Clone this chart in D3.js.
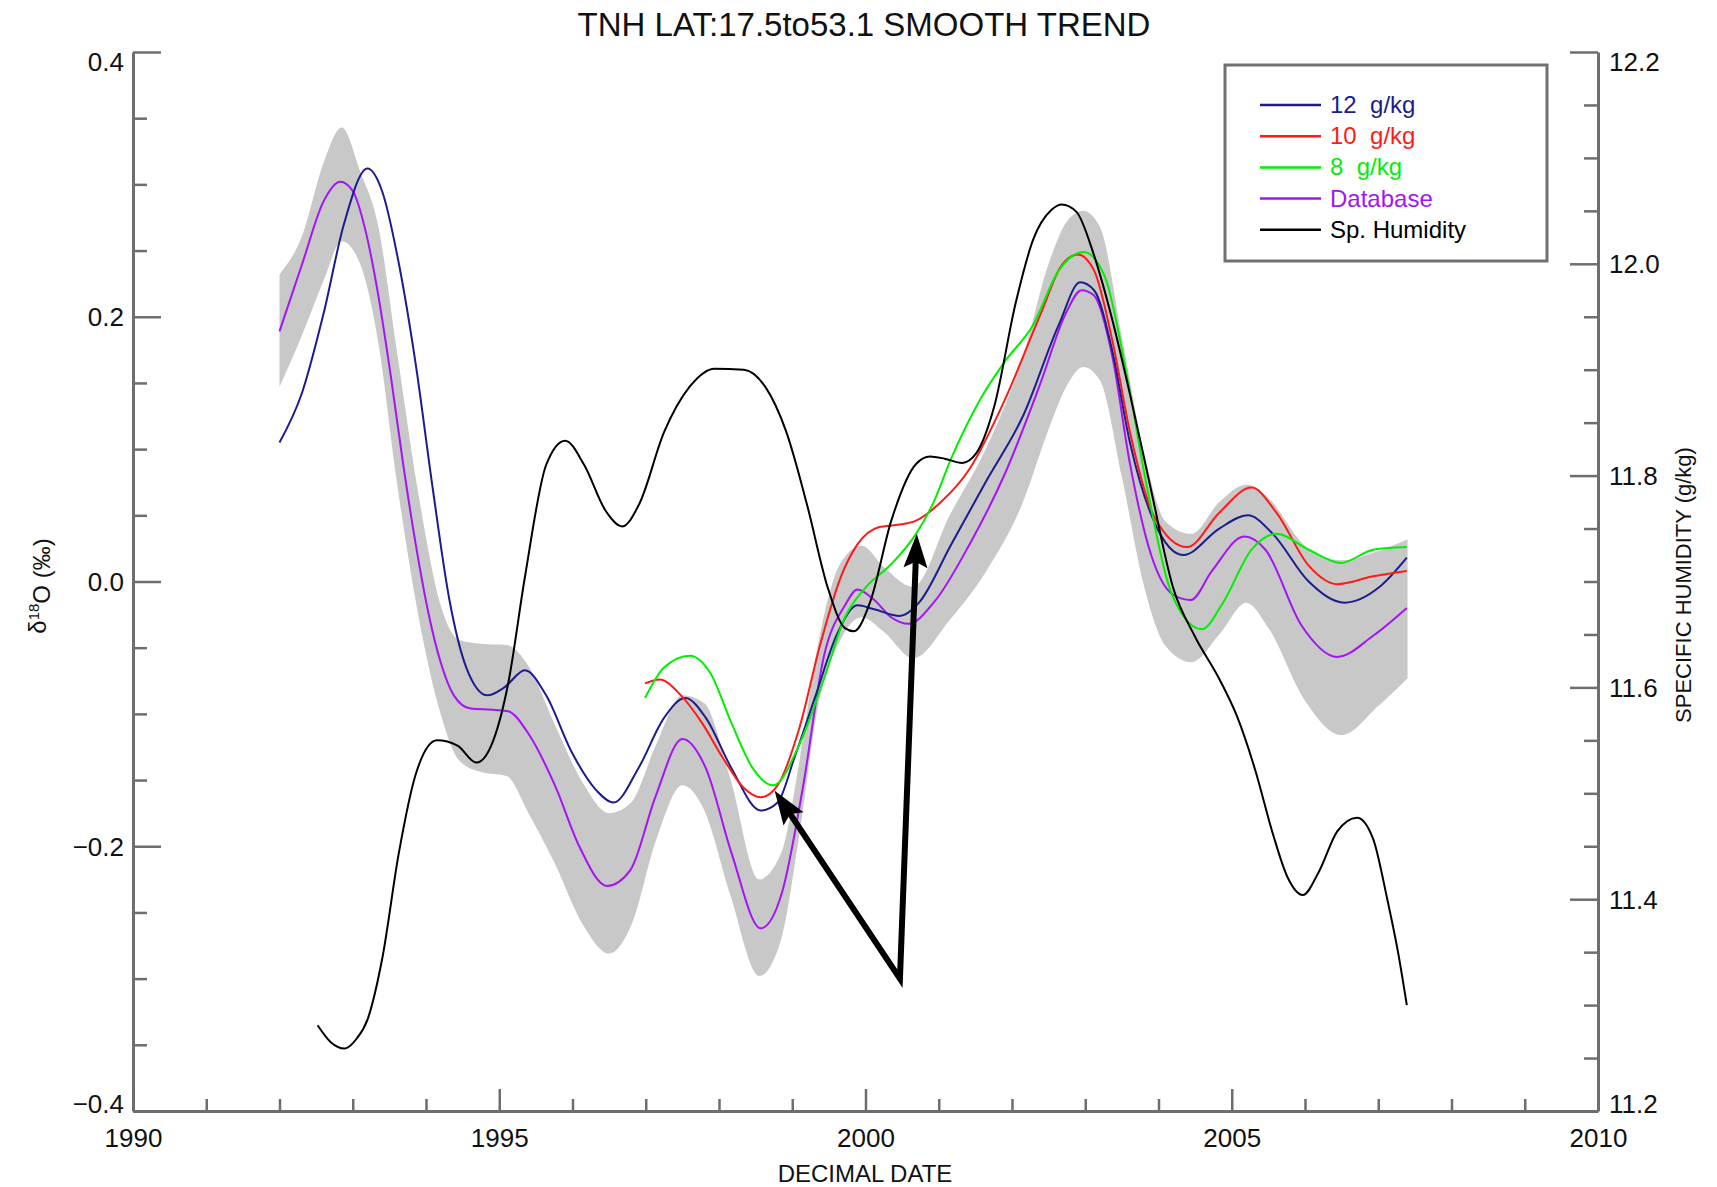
<!DOCTYPE html>
<html>
<head>
<meta charset="utf-8">
<script src="https://cdn.jsdelivr.net/npm/d3@7"></script>
<style>
  html, body { margin: 0; padding: 0; background: #fff; }
  svg { display: block; font-family: "Liberation Sans", Arial, Helvetica, sans-serif; }
</style>
</head>
<body>
<svg id="chart" width="1717" height="1187"></svg>
<script>
// ---------------- DATA ----------------
const titleText = "TNH LAT:17.5to53.1 SMOOTH TREND";
const xTitle = "DECIMAL DATE";
const yRightTitle = "SPECIFIC HUMIDITY (g/kg)";

const xMajorTicks = [1990, 1995, 2000, 2005, 2010];
const yLeftMajorTicks = [-0.4, -0.2, 0.0, 0.2, 0.4];
const yRightMajorTicks = [11.2, 11.4, 11.6, 11.8, 12.0, 12.2];

// Gray uncertainty band (d18O)
const bandYears = [1992.0, 1992.3, 1992.6, 1992.85, 1993.1, 1993.35, 1993.6, 1993.9, 1994.2, 1994.45, 1994.75, 1995.1, 1995.4, 1995.75, 1996.15, 1996.5, 1996.8, 1997.15, 1997.5, 1997.8, 1998.15, 1998.55, 1998.85, 1999.1, 1999.35, 1999.65, 1999.95, 2000.25, 2000.65, 2001.15, 2001.65, 2002.15, 2002.5, 2002.75, 2002.97, 2003.2, 2003.5, 2003.8, 2004.1, 2004.45, 2004.83, 2005.2, 2005.5, 2006.0, 2006.5, 2007.0, 2007.4];
const bandUpper = [0.232, 0.260, 0.316, 0.343, 0.310, 0.268, 0.175, 0.065, -0.018, -0.044, -0.047, -0.048, -0.064, -0.107, -0.153, -0.175, -0.167, -0.122, -0.086, -0.092, -0.148, -0.225, -0.205, -0.135, -0.048, 0.013, 0.027, 0.011, -0.004, 0.050, 0.101, 0.170, 0.240, 0.272, 0.280, 0.268, 0.185, 0.098, 0.045, 0.036, 0.060, 0.073, 0.063, 0.027, 0.016, 0.023, 0.032];
const bandLower = [0.147, 0.185, 0.227, 0.257, 0.240, 0.180, 0.076, -0.027, -0.100, -0.135, -0.144, -0.147, -0.175, -0.212, -0.260, -0.281, -0.260, -0.194, -0.154, -0.173, -0.236, -0.298, -0.270, -0.190, -0.095, -0.045, -0.027, -0.038, -0.058, -0.029, 0.008, 0.060, 0.115, 0.148, 0.162, 0.152, 0.079, -0.003, -0.049, -0.061, -0.040, -0.016, -0.035, -0.090, -0.116, -0.094, -0.073];

// Database (purple)
const dbYears = [1992.0, 1992.31, 1992.6, 1992.83, 1993.0, 1993.17, 1993.34, 1993.52, 1993.69, 1993.86, 1994.03, 1994.2, 1994.38, 1994.61, 1994.95, 1995.12, 1995.41, 1995.76, 1996.1, 1996.47, 1996.79, 1997.13, 1997.5, 1997.82, 1998.17, 1998.57, 1998.86, 1999.15, 1999.43, 1999.72, 1999.89, 2000.12, 2000.35, 2000.59, 2000.93, 2001.42, 2001.9, 2002.39, 2002.73, 2002.95, 2003.12, 2003.37, 2003.61, 2003.9, 2004.2, 2004.44, 2004.73, 2005.17, 2005.46, 2005.95, 2006.44, 2006.93, 2007.39];
const dbVals = [0.189, 0.240, 0.287, 0.302, 0.295, 0.266, 0.219, 0.155, 0.088, 0.028, -0.023, -0.061, -0.086, -0.096, -0.097, -0.098, -0.116, -0.154, -0.201, -0.230, -0.218, -0.163, -0.119, -0.141, -0.205, -0.262, -0.235, -0.154, -0.057, -0.018, -0.006, -0.014, -0.027, -0.032, -0.016, 0.028, 0.081, 0.150, 0.202, 0.220, 0.216, 0.170, 0.089, 0.020, -0.010, -0.014, 0.008, 0.034, 0.024, -0.033, -0.057, -0.041, -0.020];

// 12 g/kg (navy)
const g12Years = [1992.0, 1992.31, 1992.6, 1992.88, 1993.2, 1993.4, 1993.63, 1993.86, 1994.09, 1994.32, 1994.55, 1994.84, 1995.07, 1995.35, 1995.64, 1995.99, 1996.33, 1996.56, 1996.9, 1997.25, 1997.54, 1997.82, 1998.17, 1998.57, 1998.8, 1999.03, 1999.32, 1999.61, 1999.89, 2000.12, 2000.47, 2000.73, 2001.17, 2001.66, 2002.15, 2002.64, 2002.93, 2003.12, 2003.37, 2003.61, 2003.95, 2004.34, 2004.83, 2005.22, 2005.56, 2006.05, 2006.54, 2007.02, 2007.39];
const g12Vals = [0.105, 0.143, 0.202, 0.270, 0.312, 0.295, 0.240, 0.164, 0.071, -0.014, -0.065, -0.086, -0.080, -0.067, -0.086, -0.129, -0.158, -0.167, -0.141, -0.103, -0.088, -0.103, -0.141, -0.173, -0.167, -0.133, -0.086, -0.040, -0.018, -0.021, -0.026, -0.016, 0.028, 0.077, 0.125, 0.194, 0.226, 0.220, 0.174, 0.105, 0.044, 0.020, 0.040, 0.050, 0.036, 0.000, -0.016, -0.004, 0.018];

// 10 g/kg (red)
const g10Years = [1996.99, 1997.19, 1997.48, 1997.77, 1998.05, 1998.34, 1998.57, 1998.8, 1999.09, 1999.38, 1999.66, 1999.89, 2000.18, 2000.47, 2000.69, 2001.03, 2001.42, 2001.9, 2002.39, 2002.68, 2002.9, 2003.12, 2003.37, 2003.61, 2003.95, 2004.39, 2004.83, 2005.27, 2005.61, 2006.05, 2006.44, 2006.93, 2007.39];
const g10Vals = [-0.077, -0.074, -0.086, -0.107, -0.133, -0.156, -0.163, -0.154, -0.112, -0.048, 0.003, 0.028, 0.041, 0.043, 0.046, 0.060, 0.085, 0.137, 0.202, 0.239, 0.247, 0.235, 0.182, 0.113, 0.048, 0.026, 0.052, 0.071, 0.052, 0.012, -0.002, 0.004, 0.008];

// 8 g/kg (green)
const g8Years = [1996.99, 1997.25, 1997.6, 1997.88, 1998.17, 1998.46, 1998.74, 1999.09, 1999.43, 1999.72, 2000.01, 2000.35, 2000.69, 2000.93, 2001.17, 2001.56, 2001.9, 2002.29, 2002.64, 2002.98, 2003.27, 2003.56, 2003.85, 2004.2, 2004.59, 2004.88, 2005.27, 2005.61, 2006.05, 2006.49, 2006.93, 2007.39];
const g8Vals = [-0.088, -0.065, -0.056, -0.069, -0.107, -0.141, -0.154, -0.124, -0.074, -0.027, -0.004, 0.013, 0.036, 0.060, 0.093, 0.137, 0.166, 0.194, 0.235, 0.249, 0.230, 0.158, 0.069, -0.012, -0.036, -0.016, 0.024, 0.036, 0.024, 0.014, 0.024, 0.026];

// Specific humidity (black, right axis, g/kg)
const shYears = [1992.52, 1992.7, 1992.89, 1993.05, 1993.2, 1993.4, 1993.63, 1993.86, 1994.15, 1994.43, 1994.69, 1994.89, 1995.12, 1995.35, 1995.64, 1995.9, 1996.16, 1996.45, 1996.68, 1996.91, 1997.25, 1997.6, 1997.94, 1998.34, 1998.63, 1998.92, 1999.2, 1999.49, 1999.72, 1999.84, 2000.07, 2000.35, 2000.69, 2000.88, 2001.08, 2001.32, 2001.51, 2001.76, 2002.05, 2002.29, 2002.54, 2002.68, 2002.88, 2003.12, 2003.37, 2003.61, 2003.9, 2004.2, 2004.49, 2004.83, 2005.07, 2005.32, 2005.56, 2005.76, 2005.97, 2006.19, 2006.44, 2006.71, 2006.93, 2007.12, 2007.27, 2007.39];
const shVals = [11.281, 11.265, 11.259, 11.268, 11.286, 11.343, 11.444, 11.518, 11.550, 11.545, 11.529, 11.545, 11.603, 11.704, 11.810, 11.833, 11.810, 11.767, 11.752, 11.773, 11.841, 11.884, 11.901, 11.900, 11.884, 11.841, 11.773, 11.693, 11.656, 11.653, 11.682, 11.757, 11.811, 11.818, 11.816, 11.812, 11.821, 11.866, 11.963, 12.023, 12.051, 12.056, 12.049, 12.008, 11.947, 11.877, 11.786, 11.694, 11.649, 11.608, 11.573, 11.522, 11.462, 11.421, 11.404, 11.426, 11.464, 11.477, 11.457, 11.401, 11.350, 11.300];

// Legend
const legendLabels = ["12 g/kg", "10 g/kg", "8 g/kg", "Database", "Sp. Humidity"];
const legendColors = ["#1c1c8e", "#ff1a1a", "#00f000", "#a414f4", "#000000"];

// Annotation arrows (data units): common tail, two heads
const arrowTail = [2000.47, -0.300];
const arrowHeads = [[1998.76, -0.158], [2000.70, 0.036]];

// ---------------- CHART ----------------
(function () {
const svg = d3.select("#chart");
const pL = 133, pR = 1598, pT = 52, pB = 1111;

const x = d3.scaleLinear().domain([1990, 2010]).range([pL, pR]);
const y = d3.scaleLinear().domain([-0.4, 0.4]).range([pB, pT]);
const yR = d3.scaleLinear().domain([11.2, 12.2]).range([pB, pT]);

const zip = (xs, vs) => xs.map((t, i) => [t, vs[i]]);
const curve = d3.curveMonotoneX;

// band
const bandData = bandYears.map((t, i) => ({t, lo: bandLower[i], hi: bandUpper[i]}));
svg.append("path")
  .datum(bandData)
  .attr("fill", "#c8c8c8")
  .attr("d", d3.area().x(d => x(d.t)).y0(d => y(d.lo)).y1(d => y(d.hi)).curve(curve));

const line = d3.line().x(d => x(d[0])).y(d => y(d[1])).curve(curve);
const lineR = d3.line().x(d => x(d[0])).y(d => yR(d[1])).curve(curve);

const series = [
  {data: zip(dbYears, dbVals), color: legendColors[3], gen: line},
  {data: zip(g12Years, g12Vals), color: legendColors[0], gen: line},
  {data: zip(g10Years, g10Vals), color: legendColors[1], gen: line},
  {data: zip(g8Years, g8Vals), color: legendColors[2], gen: line},
  {data: zip(shYears, shVals), color: legendColors[4], gen: lineR}
];
series.forEach(s => {
  svg.append("path")
    .datum(s.data)
    .attr("fill", "none")
    .attr("stroke", s.color)
    .attr("stroke-width", 2)
    .attr("d", s.gen);
});

// arrows
const tail = [x(arrowTail[0]), y(arrowTail[1])];
const headLen = 34, headHalf = 12, back = 20;
const pts = [];
const heads = [];
arrowHeads.forEach(h => {
  const tip = [x(h[0]), y(h[1])];
  const dx = tip[0] - tail[0], dy = tip[1] - tail[1];
  const L = Math.hypot(dx, dy);
  const ux = dx / L, uy = dy / L;
  const px = -uy, py = ux;
  const baseX = tip[0] - ux * headLen, baseY = tip[1] - uy * headLen;
  heads.push([[tip[0], tip[1]], [baseX + px * headHalf, baseY + py * headHalf], [tip[0] - ux * (headLen - 6), tip[1] - uy * (headLen - 6)], [baseX - px * headHalf, baseY - py * headHalf]]);
  pts.push([tip[0] - ux * back, tip[1] - uy * back]);
});
svg.append("path")
  .attr("d", `M${pts[0][0]},${pts[0][1]}L${tail[0]},${tail[1]}L${pts[1][0]},${pts[1][1]}`)
  .attr("fill", "none").attr("stroke", "#000").attr("stroke-width", 6)
  .attr("stroke-linejoin", "miter");
heads.forEach(hp => {
  svg.append("path").attr("d", "M" + hp.map(p => p.join(",")).join("L") + "Z").attr("fill", "#000");
});

// axes
const axisColor = "#6e6e6e";
const fmt1 = d3.format(".1f");
function styleAxis(g) {
  g.selectAll(".domain").attr("stroke", axisColor).attr("stroke-width", 3);
  g.selectAll(".tick line").attr("stroke", axisColor).attr("stroke-width", 2.5);
  g.selectAll("text").attr("fill", "#111").style("font-size", "26px")
    .style("font-family", "'Liberation Sans', Arial, Helvetica, sans-serif");
}

// left
const leftMinor = d3.range(-0.4, 0.4001, 0.05).map(v => +v.toFixed(2)).filter(v => !yLeftMajorTicks.some(m => Math.abs(m - v) < 1e-6));
svg.append("g").attr("transform", `translate(${pL},0)`)
  .call(d3.axisLeft(y).tickValues(leftMinor).tickSize(-14).tickSizeOuter(0).tickFormat(""))
  .call(g => { g.select(".domain").remove(); g.selectAll(".tick line").attr("stroke", axisColor).attr("stroke-width", 2.5); });
const gL = svg.append("g").attr("transform", `translate(${pL},0)`)
  .call(d3.axisLeft(y).tickValues(yLeftMajorTicks).tickSize(-28).tickSizeOuter(0).tickPadding(9).tickFormat(fmt1))
  .call(styleAxis);
gL.selectAll(".tick text").attr("dy", d => d === 0.4 ? "0.7em" : (d === -0.4 ? "0.05em" : "0.35em"));

// bottom
const xMinor = d3.range(1990, 2011, 1).filter(v => v % 5 !== 0);
svg.append("g").attr("transform", `translate(0,${pB})`)
  .call(d3.axisBottom(x).tickValues(xMinor).tickSize(-12).tickSizeOuter(0).tickFormat(""))
  .call(g => { g.select(".domain").remove(); g.selectAll(".tick line").attr("stroke", axisColor).attr("stroke-width", 2.5); });
svg.append("g").attr("transform", `translate(0,${pB})`)
  .call(d3.axisBottom(x).tickValues(xMajorTicks).tickSize(-22).tickSizeOuter(0).tickPadding(18).tickFormat(d3.format("d")))
  .call(styleAxis);

// right
const rightMinor = d3.range(11.2, 12.2001, 0.05).map(v => +v.toFixed(2)).filter(v => !yRightMajorTicks.some(m => Math.abs(m - v) < 1e-6));
svg.append("g").attr("transform", `translate(${pR},0)`)
  .call(d3.axisRight(yR).tickValues(rightMinor).tickSize(-14).tickSizeOuter(0).tickFormat(""))
  .call(g => { g.select(".domain").remove(); g.selectAll(".tick line").attr("stroke", axisColor).attr("stroke-width", 2.5); });
const gR = svg.append("g").attr("transform", `translate(${pR},0)`)
  .call(d3.axisRight(yR).tickValues(yRightMajorTicks).tickSize(-28).tickSizeOuter(0).tickPadding(11).tickFormat(fmt1))
  .call(styleAxis);
gR.selectAll(".tick text").attr("dy", d => Math.abs(d - 12.2) < 1e-6 ? "0.7em" : (Math.abs(d - 11.2) < 1e-6 ? "0.05em" : "0.35em"));

// titles
svg.append("text").attr("x", 864).attr("y", 36).attr("text-anchor", "middle")
  .style("font-size", "33px").attr("fill", "#111").text(titleText);
svg.append("text").attr("x", 865).attr("y", 1182).attr("text-anchor", "middle")
  .style("font-size", "24px").attr("fill", "#111").text(xTitle);

const yl = svg.append("text")
  .attr("transform", "translate(46,586) rotate(-90)")
  .attr("text-anchor", "middle").style("font-size", "24px").attr("fill", "#111");
yl.append("tspan").text("δ");
yl.append("tspan").attr("dy", "-0.45em").style("font-size", "15px").text("18");
yl.append("tspan").attr("dy", "0.45em").text("O (‰)");

svg.append("text")
  .attr("transform", "translate(1691,585) rotate(-90)")
  .attr("text-anchor", "middle").style("font-size", "22px").attr("fill", "#111")
  .text(yRightTitle);

// legend
const lg = svg.append("g");
lg.append("rect").attr("x", 1225).attr("y", 65).attr("width", 322).attr("height", 196)
  .attr("fill", "#fff").attr("stroke", "#707070").attr("stroke-width", 3);
legendLabels.forEach((lab, i) => {
  const yy = 105 + i * 31.2;
  lg.append("line").attr("x1", 1260).attr("x2", 1321).attr("y1", yy).attr("y2", yy)
    .attr("stroke", legendColors[i]).attr("stroke-width", 2.5);
  lg.append("text").attr("x", 1330).attr("y", yy + 8).style("font-size", "24px")
    .style("white-space", "pre")
    .attr("fill", legendColors[i]).text(lab.replace(" g/kg", "  g/kg"));
});
})();
</script>
</body>
</html>
